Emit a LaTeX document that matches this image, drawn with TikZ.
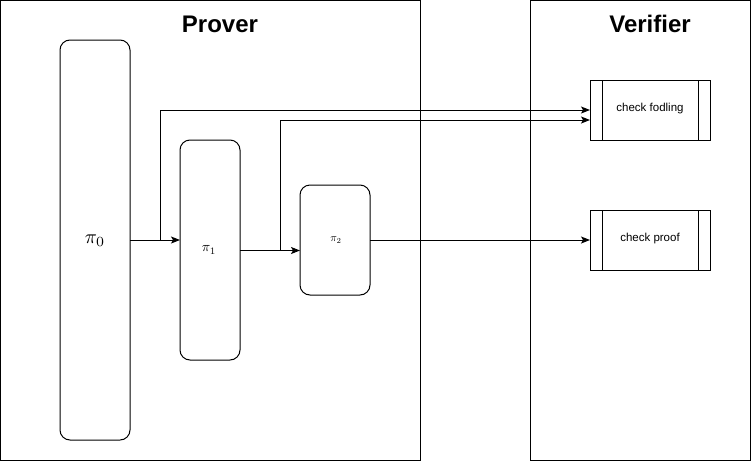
\documentclass[tikz,border=0pt]{standalone}
\usepackage{fontspec}
\setmainfont{Liberation Sans}
\usetikzlibrary{arrows.meta,positioning}
\begin{document}
\begin{tikzpicture}[x=1pt,y=-1pt,line width=1pt,
  panel/.style={draw,rectangle},
  title/.style={font=\fontsize{24}{28}\selectfont\bfseries},
  proofbox/.style={draw,rounded corners=10pt},
  procbox/.style={draw},
  flow/.style={-{Stealth[length=9pt,width=7pt,inset=2pt]}},
  lbl/.style={font=\fontsize{11.5}{14}\selectfont}]
\useasboundingbox (0,0) rectangle (751,461);
% panels
\draw[panel] (0.5,0.5) rectangle (420,460.5);
\draw[panel] (530,0.5) rectangle (750.5,460.5);
\node[title] (tp) at (220,24) {Prover};
\node[title] (tv) at (650,24) {Verifier};
% proof boxes
\draw[proofbox] (60,40) rectangle (130,440);
\node[scale=2] (p0) at (95,241) {$\pi_0$};
\coordinate (p0e) at (130,240);
\draw[proofbox] (180,140) rectangle (240,360);
\node[scale=1.4] (p1) at (209,250) {$\pi_1$};
\coordinate (p1w) at (180,240);
\coordinate (p1e) at (240,250.5);
\draw[proofbox] (300,185) rectangle (370,295);
\node[scale=1.1] (p2) at (336,240) {$\pi_2$};
\coordinate (p2w) at (300,250.5);
\coordinate (p2e) at (370,240);
% verifier processes
\draw[procbox] (590,80) rectangle (710,140);
\draw (602,80) -- (602,140) (698,80) -- (698,140);
\node[lbl] (cf) at (650,109) {check fodling};
\coordinate (cfa) at (590,110);
\coordinate (cfb) at (590,120);
\draw[procbox] (590,210) rectangle (710,270);
\draw (602,210) -- (602,270) (698,210) -- (698,270);
\node[lbl] (cp) at (650,239) {check proof};
\coordinate (cpa) at (590,240);
% connectors
\draw[flow] (p0e) -- (p1w);
\draw[flow] (160,240) -- (160,110) -- (cfa);
\draw[flow] (p1e) -- (p2w);
\draw[line width=1.6pt] (270,250.5) -- (280,250.5);
\draw[flow] (280.5,250.5) -- (280.5,120) -- (cfb);
\draw[flow] (p2e) -- (cpa);
\end{tikzpicture}
\end{document}
